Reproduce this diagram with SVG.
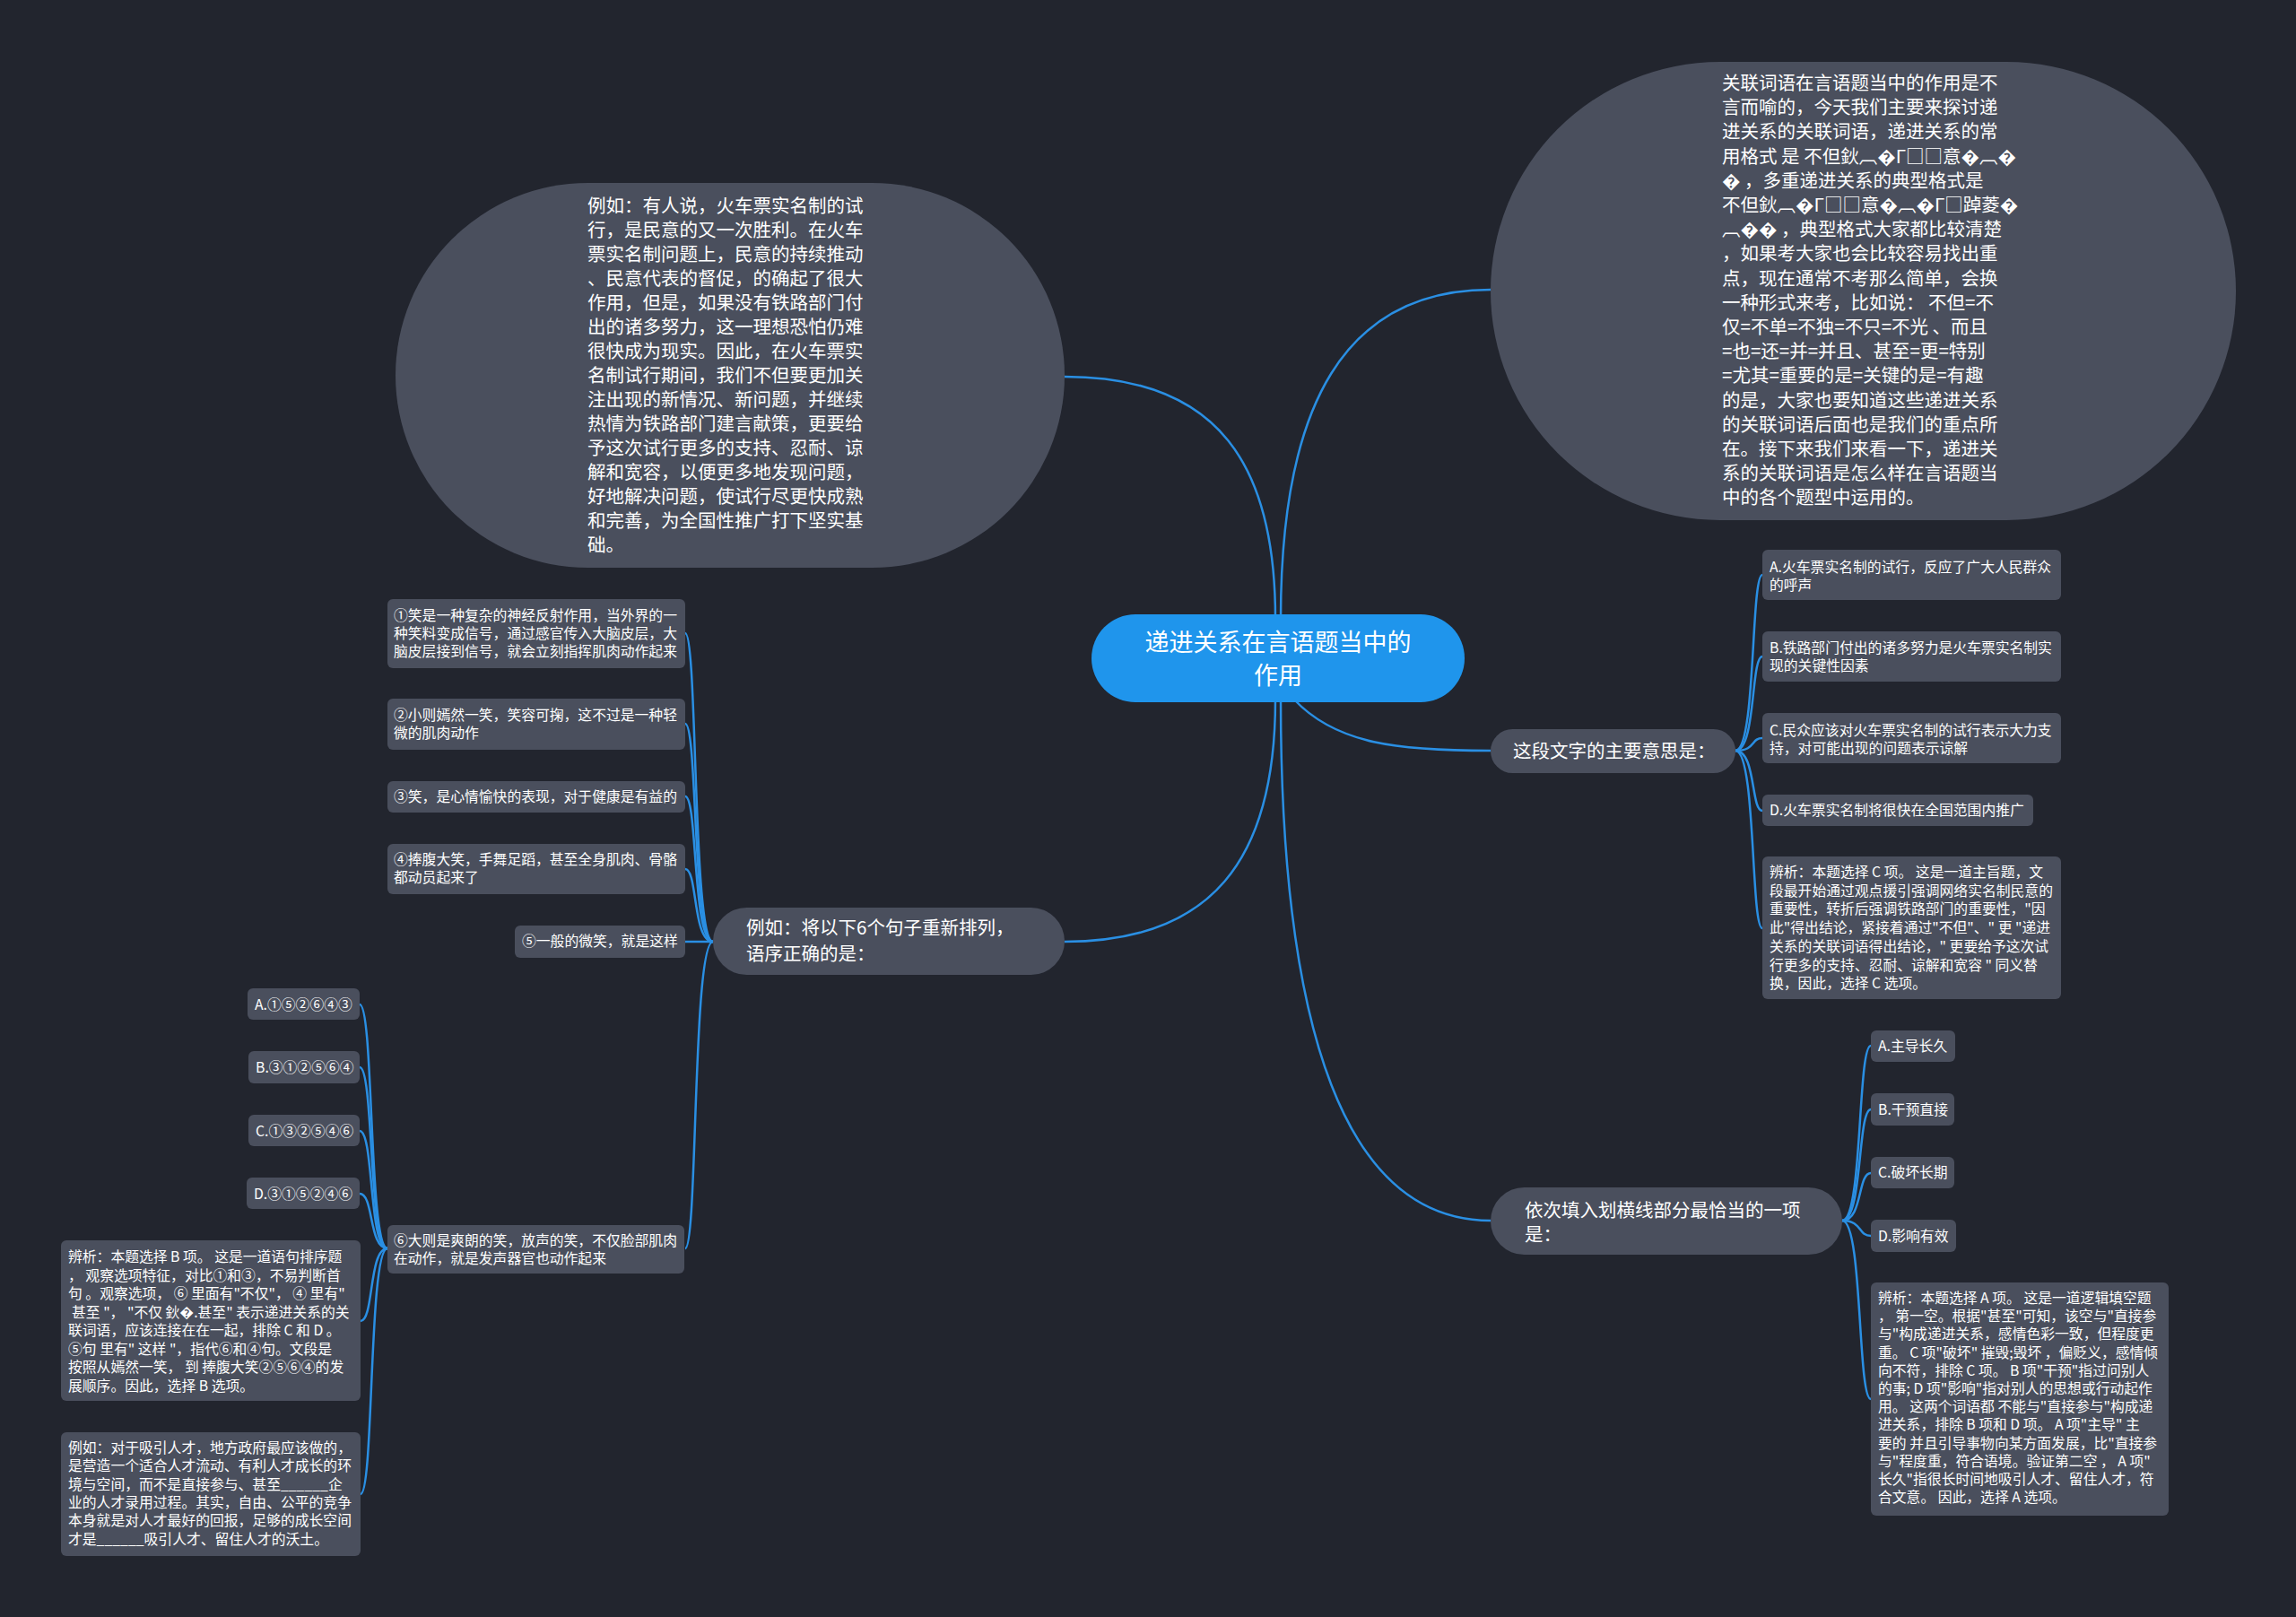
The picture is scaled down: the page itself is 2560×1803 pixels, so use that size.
<svg xmlns="http://www.w3.org/2000/svg" width="2560" height="1803" viewBox="0 0 2560 1803">
<style>
.n{fill:#4a4f5d}
.t{fill:#ffffff;font-family:"Noto Sans CJK SC","Noto Sans",sans-serif}
.b{font-size:20.5px}
.s{font-size:15.8px}
.c{fill:none;stroke:#2a8fe3;stroke-width:2.5}
</style>
<rect width="2560" height="1803" fill="#22252e"/>
<g id="connectors">
<path class="c" d="M1187 420 C1360 420 1422 520 1422 690"/>
<path class="c" d="M1662 323 C1500 323 1428 450 1428 690"/>
<path class="c" d="M1422 780 C1422 960 1350 1050 1187 1050"/>
<path class="c" d="M1428 780 C1428 1150 1500 1361 1662 1361"/>
<path class="c" d="M1443 780 C1490 830 1560 837 1662 837"/>
<path class="c" d="M1935 837 C1958 837 1952 641 1965 641"/>
<path class="c" d="M1935 837 C1958 837 1952 732 1965 732"/>
<path class="c" d="M1935 837 C1958 837 1952 823 1965 823"/>
<path class="c" d="M1935 837 C1958 837 1952 904 1965 904"/>
<path class="c" d="M1935 837 C1958 837 1952 1035 1965 1035"/>
<path class="c" d="M2054 1361 C2077 1361 2071 1166 2086 1166"/>
<path class="c" d="M2054 1361 C2077 1361 2071 1237 2086 1237"/>
<path class="c" d="M2054 1361 C2077 1361 2071 1308 2086 1308"/>
<path class="c" d="M2054 1361 C2077 1361 2071 1378 2086 1378"/>
<path class="c" d="M2054 1361 C2077 1361 2071 1560 2086 1560"/>
<path class="c" d="M795 1050 C772 1050 778 706 764 706"/>
<path class="c" d="M795 1050 C772 1050 778 807 764 807"/>
<path class="c" d="M795 1050 C772 1050 778 888 764 888"/>
<path class="c" d="M795 1050 C772 1050 778 969 764 969"/>
<path class="c" d="M795 1050 C772 1050 778 1050 764 1050"/>
<path class="c" d="M795 1050 C772 1050 778 1392 764 1392"/>
<path class="c" d="M432 1392 C411 1392 417 1120 401 1120"/>
<path class="c" d="M432 1392 C411 1392 417 1190 401 1190"/>
<path class="c" d="M432 1392 C411 1392 417 1261 401 1261"/>
<path class="c" d="M432 1392 C411 1392 417 1331 401 1331"/>
<path class="c" d="M432 1392 C411 1392 417 1473 402 1473"/>
<path class="c" d="M432 1392 C411 1392 417 1666 402 1666"/>
</g>
<g id="center">
<rect x="1217" y="685" width="416" height="98" rx="49" fill="#1f95ec"/>
<text class="t" font-size="27" text-anchor="middle"><tspan x="1425" y="726">递进关系在言语题当中的</tspan><tspan x="1425" y="763">作用</tspan></text>
</g>
<g id="example-train">
<rect class="n" x="441" y="204" width="746" height="429" rx="214.5"/>
<text class="t b"><tspan x="655" y="237">例如：有人说，火车票实名制的试</tspan><tspan x="655" y="264">行，是民意的又一次胜利。在火车</tspan><tspan x="655" y="291">票实名制问题上，民意的持续推动</tspan><tspan x="655" y="318">、民意代表的督促，的确起了很大</tspan><tspan x="655" y="345">作用，但是，如果没有铁路部门付</tspan><tspan x="655" y="372">出的诸多努力，这一理想恐怕仍难</tspan><tspan x="655" y="399">很快成为现实。因此，在火车票实</tspan><tspan x="655" y="426">名制试行期间，我们不但要更加关</tspan><tspan x="655" y="453">注出现的新情况、新问题，并继续</tspan><tspan x="655" y="480">热情为铁路部门建言献策，更要给</tspan><tspan x="655" y="507">予这次试行更多的支持、忍耐、谅</tspan><tspan x="655" y="534">解和宽容，以便更多地发现问题，</tspan><tspan x="655" y="561">好地解决问题，使试行尽更快成熟</tspan><tspan x="655" y="588">和完善，为全国性推广打下坚实基</tspan><tspan x="655" y="615">础。</tspan></text>
</g>
<g id="intro">
<rect class="n" x="1662" y="69" width="831" height="511" rx="255.5"/>
<text class="t b"><tspan x="1920" y="100">关联词语在言语题当中的作用是不</tspan><tspan x="1920" y="127.2">言而喻的，今天我们主要来探讨递</tspan><tspan x="1920" y="154.4">进关系的关联词语，递进关系的常</tspan><tspan x="1920" y="181.6">用格式 是 不但鈥︹�Γ□□意�︹�</tspan><tspan x="1920" y="208.8">� ，多重递进关系的典型格式是</tspan><tspan x="1920" y="236">不但鈥︹�Γ□□意�︹�Γ□踔菱�</tspan><tspan x="1920" y="263.2">︹�� ，典型格式大家都比较清楚</tspan><tspan x="1920" y="290.4">，如果考大家也会比较容易找出重</tspan><tspan x="1920" y="317.6">点，现在通常不考那么简单，会换</tspan><tspan x="1920" y="344.8">一种形式来考，比如说： 不但=不</tspan><tspan x="1920" y="372">仅=不单=不独=不只=不光 、而且</tspan><tspan x="1920" y="399.2">=也=还=并=并且、甚至=更=特别</tspan><tspan x="1920" y="426.4">=尤其=重要的是=关键的是=有趣</tspan><tspan x="1920" y="453.6">的是，大家也要知道这些递进关系</tspan><tspan x="1920" y="480.8">的关联词语后面也是我们的重点所</tspan><tspan x="1920" y="508">在。接下来我们来看一下，递进关</tspan><tspan x="1920" y="535.2">系的关联词语是怎么样在言语题当</tspan><tspan x="1920" y="562.4">中的各个题型中运用的。</tspan></text>
</g>
<g id="q1">
<rect class="n" x="1662" y="813" width="273" height="49" rx="24.5"/>
<text class="t b" x="1687" y="845">这段文字的主要意思是：</text>
</g>
<g id="q1-a">
<rect class="n" x="1965" y="613" width="333" height="56" rx="6"/>
<text class="t s"><tspan x="1973" y="638">A.火车票实名制的试行，反应了广大人民群众</tspan><tspan x="1973" y="658">的呼声</tspan></text>
</g>
<g id="q1-b">
<rect class="n" x="1965" y="704" width="333" height="56" rx="6"/>
<text class="t s"><tspan x="1973" y="728">B.铁路部门付出的诸多努力是火车票实名制实</tspan><tspan x="1973" y="748">现的关键性因素</tspan></text>
</g>
<g id="q1-c">
<rect class="n" x="1965" y="795" width="333" height="56" rx="6"/>
<text class="t s"><tspan x="1973" y="820">C.民众应该对火车票实名制的试行表示大力支</tspan><tspan x="1973" y="840">持，对可能出现的问题表示谅解</tspan></text>
</g>
<g id="q1-d">
<rect class="n" x="1965" y="886" width="302" height="35" rx="6"/>
<text class="t s" x="1973" y="909">D.火车票实名制将很快在全国范围内推广</text>
</g>
<g id="q1-analysis">
<rect class="n" x="1965" y="955" width="333" height="159" rx="6"/>
<text class="t s"><tspan x="1973" y="978">辨析：本题选择 C 项。 这是一道主旨题，文</tspan><tspan x="1973" y="998.7">段最开始通过观点援引强调网络实名制民意的</tspan><tspan x="1973" y="1019.4">重要性，转折后强调铁路部门的重要性，"因</tspan><tspan x="1973" y="1040.1">此"得出结论，紧接着通过"不但"、" 更 "递进</tspan><tspan x="1973" y="1060.8">关系的关联词语得出结论，" 更要给予这次试</tspan><tspan x="1973" y="1081.5">行更多的支持、忍耐、谅解和宽容 " 同义替</tspan><tspan x="1973" y="1102.2">换，因此，选择 C 选项。</tspan></text>
</g>
<g id="q2">
<rect class="n" x="1662" y="1324" width="392" height="75" rx="37.5"/>
<text class="t b"><tspan x="1700" y="1357">依次填入划横线部分最恰当的一项</tspan><tspan x="1700" y="1384">是：</tspan></text>
</g>
<g id="q2-a">
<rect class="n" x="2086" y="1149" width="94" height="35" rx="6"/>
<text class="t s" x="2094" y="1172">A.主导长久</text>
</g>
<g id="q2-b">
<rect class="n" x="2086" y="1219" width="93" height="36" rx="6"/>
<text class="t s" x="2094" y="1243">B.干预直接</text>
</g>
<g id="q2-c">
<rect class="n" x="2086" y="1290" width="93" height="35" rx="6"/>
<text class="t s" x="2094" y="1313">C.破坏长期</text>
</g>
<g id="q2-d">
<rect class="n" x="2086" y="1360" width="95" height="36" rx="6"/>
<text class="t s" x="2094" y="1384">D.影响有效</text>
</g>
<g id="q2-analysis">
<rect class="n" x="2086" y="1430" width="332" height="260" rx="6"/>
<text class="t s"><tspan x="2094" y="1453">辨析：本题选择 A 项。 这是一道逻辑填空题</tspan><tspan x="2094" y="1473.2">， 第一空。根据"甚至"可知，该空与"直接参</tspan><tspan x="2094" y="1493.4">与"构成递进关系，感情色彩一致，但程度更</tspan><tspan x="2094" y="1513.6">重。 C 项"破坏" 摧毁;毁坏 ，偏贬义，感情倾</tspan><tspan x="2094" y="1533.8">向不符，排除 C 项。 B 项"干预"指过问别人</tspan><tspan x="2094" y="1554">的事; D 项"影响"指对别人的思想或行动起作</tspan><tspan x="2094" y="1574.2">用。 这两个词语都 不能与"直接参与"构成递</tspan><tspan x="2094" y="1594.4">进关系，排除 B 项和 D 项。 A 项"主导" 主</tspan><tspan x="2094" y="1614.6">要的 并且引导事物向某方面发展，比"直接参</tspan><tspan x="2094" y="1634.8">与"程度重，符合语境。验证第二空 ， A 项"</tspan><tspan x="2094" y="1655">长久"指很长时间地吸引人才、留住人才，符</tspan><tspan x="2094" y="1675.2">合文意。 因此，选择 A 选项。</tspan></text>
</g>
<g id="q3">
<rect class="n" x="795" y="1012" width="392" height="75" rx="37.5"/>
<text class="t b"><tspan x="832" y="1042">例如：将以下6个句子重新排列，</tspan><tspan x="832" y="1071">语序正确的是：</tspan></text>
</g>
<g id="s1">
<rect class="n" x="432" y="668" width="332" height="77" rx="6"/>
<text class="t s"><tspan x="439" y="692">①笑是一种复杂的神经反射作用，当外界的一</tspan><tspan x="439" y="712">种笑料变成信号，通过感官传入大脑皮层，大</tspan><tspan x="439" y="732">脑皮层接到信号，就会立刻指挥肌肉动作起来</tspan></text>
</g>
<g id="s2">
<rect class="n" x="432" y="779" width="332" height="57" rx="6"/>
<text class="t s"><tspan x="439" y="803">②小则嫣然一笑，笑容可掬，这不过是一种轻</tspan><tspan x="439" y="823">微的肌肉动作</tspan></text>
</g>
<g id="s3">
<rect class="n" x="432" y="871" width="332" height="35" rx="6"/>
<text class="t s" x="439" y="894">③笑，是心情愉快的表现，对于健康是有益的</text>
</g>
<g id="s4">
<rect class="n" x="432" y="941" width="332" height="56" rx="6"/>
<text class="t s"><tspan x="439" y="964">④捧腹大笑，手舞足蹈，甚至全身肌肉、骨骼</tspan><tspan x="439" y="984">都动员起来了</tspan></text>
</g>
<g id="s5">
<rect class="n" x="574" y="1032" width="190" height="36" rx="6"/>
<text class="t s" x="582" y="1055">⑤一般的微笑，就是这样</text>
</g>
<g id="s6">
<rect class="n" x="432" y="1366" width="331" height="54" rx="6"/>
<text class="t s"><tspan x="439" y="1389">⑥大则是爽朗的笑，放声的笑，不仅脸部肌肉</tspan><tspan x="439" y="1409">在动作，就是发声器官也动作起来</tspan></text>
</g>
<g id="o-a">
<rect class="n" x="276" y="1102" width="125" height="35" rx="6"/>
<text class="t s" x="284" y="1126">A.①⑤②⑥④③</text>
</g>
<g id="o-b">
<rect class="n" x="277" y="1172" width="124" height="36" rx="6"/>
<text class="t s" x="285" y="1196">B.③①②⑤⑥④</text>
</g>
<g id="o-c">
<rect class="n" x="277" y="1243" width="124" height="35" rx="6"/>
<text class="t s" x="285" y="1267">C.①③②⑤④⑥</text>
</g>
<g id="o-d">
<rect class="n" x="275" y="1313" width="126" height="35" rx="6"/>
<text class="t s" x="283" y="1337">D.③①⑤②④⑥</text>
</g>
<g id="q3-analysis">
<rect class="n" x="68" y="1383" width="334" height="179" rx="6"/>
<text class="t s"><tspan x="76" y="1407">辨析：本题选择 B 项。 这是一道语句排序题</tspan><tspan x="76" y="1427.5">， 观察选项特征，对比①和③，不易判断首</tspan><tspan x="76" y="1448">句 。观察选项， ⑥ 里面有"不仅"， ④ 里有"</tspan><tspan x="80" y="1468.5">甚至 "， "不仅 鈥�.甚至" 表示递进关系的关</tspan><tspan x="76" y="1489">联词语，应该连接在在一起，排除 C 和 D 。</tspan><tspan x="76" y="1509.5">⑤句 里有" 这样 "，指代⑥和④句。文段是</tspan><tspan x="76" y="1530">按照从嫣然一笑， 到 捧腹大笑②⑤⑥④的发</tspan><tspan x="76" y="1550.5">展顺序。因此，选择 B 选项。</tspan></text>
</g>
<g id="q2-example">
<rect class="n" x="68" y="1597" width="334" height="138" rx="6"/>
<text class="t s"><tspan x="76" y="1620">例如：对于吸引人才，地方政府最应该做的，</tspan><tspan x="76" y="1640.3">是营造一个适合人才流动、有利人才成长的环</tspan><tspan x="76" y="1660.6">境与空间，而不是直接参与、甚至______企</tspan><tspan x="76" y="1680.9">业的人才录用过程。其实，自由、公平的竞争</tspan><tspan x="76" y="1701.2">本身就是对人才最好的回报，足够的成长空间</tspan><tspan x="76" y="1721.5">才是______吸引人才、留住人才的沃土。</tspan></text>
</g>
</svg>
